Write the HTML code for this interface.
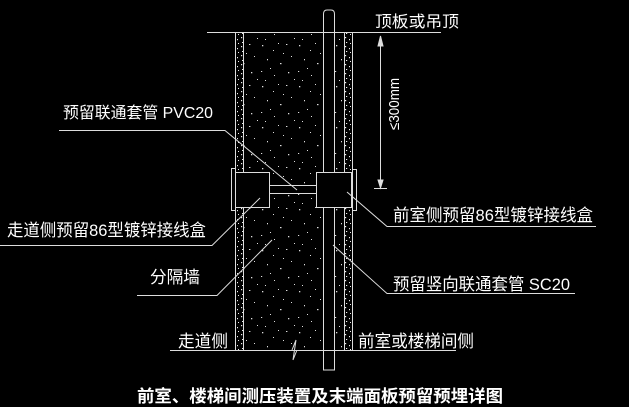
<!DOCTYPE html>
<html><head><meta charset="utf-8"><style>
html,body{margin:0;padding:0;background:#000;width:629px;height:407px;overflow:hidden}
text{font-family:"Liberation Sans","Noto Sans CJK SC",sans-serif;fill:#fff}
</style></head><body>
<svg width="629" height="407" viewBox="0 0 629 407" xmlns="http://www.w3.org/2000/svg">
<defs>
<pattern id="c" width="37" height="41" patternUnits="userSpaceOnUse">
<g fill="#ddd">
<rect x="3" y="4" width="1.3" height="1.3"/><rect x="14" y="9" width="1" height="1"/><rect x="27" y="3" width="1.4" height="1"/>
<rect x="8" y="18" width="1" height="1.3"/><rect x="21" y="22" width="1.5" height="1.2"/><rect x="32" y="15" width="1" height="1"/>
<rect x="2" y="30" width="1.2" height="1"/><rect x="15" y="34" width="1" height="1"/><rect x="29" y="31" width="1.3" height="1.3"/>
<rect x="11" y="27" width="1" height="1"/><rect x="35" y="38" width="1" height="1"/><rect x="24" y="12" width="1" height="1"/>
<rect x="6" y="39" width="1" height="1"/><rect x="19" y="2" width="1" height="1"/>
</g></pattern>
<pattern id="p" width="8" height="9" patternUnits="userSpaceOnUse">
<g fill="#eee"><rect x="1" y="1" width="1.2" height="1.2"/><rect x="5" y="3" width="1" height="1.2"/><rect x="2" y="6" width="1.2" height="1"/><rect x="6" y="7" width="1" height="1"/></g></pattern>
</defs>
<g stroke="#ddd" stroke-width="1" fill="none">
<!-- concrete -->
<rect x="243" y="32" width="101" height="318" fill="url(#c)" stroke="none"/>
<rect x="235" y="32" width="8" height="318" fill="url(#p)" stroke="none"/>
<rect x="344" y="32" width="8" height="318" fill="url(#p)" stroke="none"/>
<line x1="235.5" y1="32" x2="235.5" y2="350"/><line x1="243.5" y1="32" x2="243.5" y2="350"/>
<line x1="344.5" y1="32" x2="344.5" y2="350"/><line x1="352.5" y1="32" x2="352.5" y2="350"/>
<!-- pipe -->
<path d="M323.5 370 V14 Q323.5 10 327 10 H331 Q334.5 10 334.5 14 V370 Z" fill="#000"/>
<!-- boxes -->
<rect x="235.5" y="172.5" width="34" height="35" fill="#000"/>
<rect x="231.5" y="168.5" width="4" height="42" fill="#000"/>
<rect x="316.5" y="172.5" width="35" height="35" fill="#000"/>
<rect x="352.5" y="169.5" width="4" height="41" fill="#000"/>
<rect x="269.5" y="185.5" width="47" height="8" fill="#000"/>
<!-- lines -->
<line x1="207" y1="32.5" x2="441" y2="32.5"/>
<line x1="170" y1="350.5" x2="456" y2="350.5"/>
<path d="M292 350 L296 340 L293 360 L297 350"/>
<line x1="380.5" y1="38" x2="380.5" y2="188"/>
<line x1="374" y1="188.5" x2="387" y2="188.5"/>
<path d="M378 46 L380.5 36 L383 46 Z M378 180 L380.5 188 L383 180 Z" fill="#ddd"/>
<!-- leaders -->
<polyline points="59,130.5 225,130.5 297,190"/>
<polyline points="0,245.5 212,245.5 260,198"/>
<polyline points="137,295.5 217,295.5 272,240"/>
<polyline points="596,226.5 387,226.5 347,192"/>
<polyline points="575,293.5 387,293.5 333,245"/>
</g>
<text x="375" y="27" font-size="16" textLength="84" lengthAdjust="spacingAndGlyphs">顶板或吊顶</text>
<text transform="translate(399,130) rotate(-90)" font-size="15" textLength="52" lengthAdjust="spacingAndGlyphs">≤300mm</text>
<text x="63" y="118" font-size="16" textLength="150" lengthAdjust="spacingAndGlyphs">预留联通套管 PVC20</text>
<text x="7" y="236" font-size="17" textLength="199" lengthAdjust="spacingAndGlyphs">走道侧预留86型镀锌接线盒</text>
<text x="150" y="283" font-size="17" textLength="50" lengthAdjust="spacingAndGlyphs">分隔墙</text>
<text x="178" y="347" font-size="17" textLength="50" lengthAdjust="spacingAndGlyphs">走道侧</text>
<text x="393" y="221" font-size="17" textLength="200" lengthAdjust="spacingAndGlyphs">前室侧预留86型镀锌接线盒</text>
<text x="393" y="290" font-size="17" textLength="177" lengthAdjust="spacingAndGlyphs">预留竖向联通套管 SC20</text>
<text x="358" y="347" font-size="17" textLength="116" lengthAdjust="spacingAndGlyphs">前室或楼梯间侧</text>
<text x="137" y="402" font-size="17" font-weight="bold" textLength="366" lengthAdjust="spacingAndGlyphs">前室、楼梯间测压装置及末端面板预留预埋详图</text>
</svg>
</body></html>
